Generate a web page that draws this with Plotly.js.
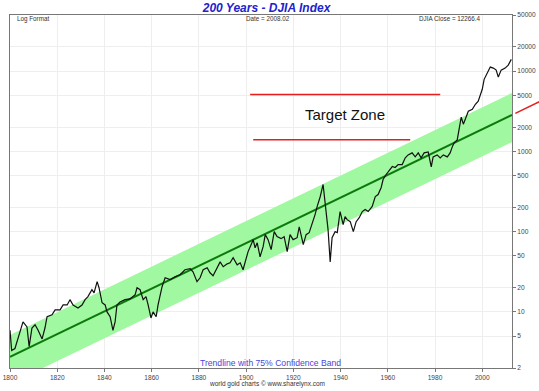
<!DOCTYPE html>
<html><head><meta charset="utf-8">
<script src="https://cdn.plot.ly/plotly-3.0.1.min.js"></script>
<style>html,body{margin:0;padding:0;background:#fff}#chart{width:539px;height:391px}</style>
</head><body><div id="chart"></div>
<script>
// DJIA index values (x positions read through the chart's own axis)
const years = [1800.0,1800.7,1802.1,1803.4,1805.5,1807.2,1808.1,1809.3,1810.6,1811.9,1813.6,1814.8,1815.7,1817.8,1819.1,1821.2,1822.5,1824.2,1825.4,1826.7,1828.8,1830.5,1831.8,1833.0,1834.7,1835.6,1836.9,1837.7,1839.0,1840.3,1841.1,1842.4,1843.6,1844.5,1845.3,1846.6,1848.7,1850.8,1853.0,1853.8,1855.1,1856.4,1857.6,1858.5,1859.7,1860.6,1861.9,1862.7,1864.4,1865.7,1867.8,1869.9,1872.0,1874.1,1876.3,1877.5,1879.2,1880.5,1881.8,1883.5,1884.7,1886.0,1887.7,1889.0,1890.3,1892.0,1893.2,1894.5,1896.2,1897.5,1898.7,1900.0,1900.8,1902.1,1903.0,1903.8,1904.7,1905.9,1907.2,1908.1,1909.3,1910.6,1911.9,1913.1,1914.8,1916.1,1917.4,1918.6,1919.9,1921.6,1922.5,1924.2,1925.4,1926.7,1928.4,1929.2,1930.1,1931.4,1932.6,1933.5,1934.7,1935.6,1936.4,1937.7,1938.6,1939.8,1941.1,1941.9,1942.8,1944.1,1945.4,1946.6,1947.9,1949.2,1950.4,1951.7,1953.4,1954.7,1955.9,1957.2,1958.0,1959.3,1960.2,1961.9,1963.1,1964.4,1966.1,1967.4,1968.6,1970.3,1971.6,1972.9,1974.1,1975.4,1977.1,1978.4,1979.2,1980.9,1982.2,1983.5,1985.2,1986.4,1987.3,1988.1,1989.4,1990.3,1991.1,1992.0,1993.2,1994.1,1995.8,1997.1,1998.3,2000.0,2000.8,2002.1,2003.4,2004.7,2005.9,2006.8,2008.0,2009.7,2011.0,2012.3];
const djia = [5.9,3.3,3.5,4.7,7.5,6.5,3.7,6.3,6.9,5.9,4.6,6.3,8.7,9.2,10.6,10.6,12.2,12.2,14.2,12.2,11.2,12.2,14.2,15.5,18.9,17.3,23.8,20,13.0,12.2,10,8.7,5.9,7.5,12.2,13.3,14.2,14.5,16.4,20,18.9,14.2,15.5,12.2,8.4,10,8.7,12.2,20.6,26.6,25.2,27.4,29,33.5,34.5,31.6,23.8,26.6,33.5,35.5,30.7,28.2,35.5,42,36.5,39.7,40.9,47.2,38.6,40.9,33.5,44.6,56,68.5,79,63,72.6,48.6,65,91.7,79.5,59.7,100,86.6,81.8,86.6,56.3,91.7,79.5,84,115,68.8,91.7,97,133,163,206,274,387,238,106,42,84,100,97,178,122,154,141,133,100,133,149,178,189,178,206,274,290,355,446,515,561,647,629,685,685,830,904,958,854,958,830,958,986,641,854,904,830,904,854,958,1138,1276,1392,2000,2664,2180,2740,3165,3346,3864,4209,5940,7900,9440,11220,10900,10290,8420,10290,10900,11880,14000];

const trendYears = [1800, 2012.6];
const trendValues = [2.75, 2843];
const bandUpperValues = [5.17, 5345];
const bandLowerValues = [1.27, 1310];
const targetUpperYears = [1901.7, 1982.2];
const targetUpperValues = [5100, 5100];
const targetLowerYears = [1903.0, 1969.5];
const targetLowerValues = [1400, 1400];
const trendExtYears = [2014.0, 2024.2];
const xRange = [1800, 2012.6];
const yRange = [2, 50000];
const yTickVals = [2,5,10,20,50,100,200,500,1000,2000,5000,10000,20000,50000];
const yTickText = yTickVals.map(String);

const FONT = 'Arial, "Liberation Sans", sans-serif';
const L = Math.log10;

function trendAt(yr){
  const f = (yr - trendYears[0])/(trendYears[1]-trendYears[0]);
  return L(trendValues[0]) + f*(L(trendValues[1]) - L(trendValues[0]));
}
function px(yr){ return (yr - xRange[0])/(xRange[1]-xRange[0]); }
function py(lv){ return (lv - L(yRange[0]))/(L(yRange[1]) - L(yRange[0])); }

const traces = [
  {x: trendYears, y: bandLowerValues, mode:'lines', line:{width:0, color:'rgba(0,0,0,0)'}, hoverinfo:'skip'},
  {x: trendYears, y: bandUpperValues, mode:'lines', line:{width:0, color:'rgba(0,0,0,0)'}, fill:'tonexty', fillcolor:'rgb(160,248,160)', hoverinfo:'skip'},
  {x: trendYears, y: trendValues, mode:'lines', line:{width:2, color:'#0b7a0b'}},
  {x: years, y: djia, mode:'lines', line:{width:1.2, color:'#111'}},
  {x: targetUpperYears, y: targetUpperValues, mode:'lines', line:{width:1.5, color:'rgb(230,30,30)'}},
  {x: targetLowerYears, y: targetLowerValues, mode:'lines', line:{width:1.5, color:'rgb(230,30,30)'}}
];

const layout = {
  width:539, height:391,
  margin:{l:10, r:27, t:15, b:23},
  paper_bgcolor:'#fff', plot_bgcolor:'#fff',
  showlegend:false,
  font:{family:FONT, color:'#333'},
  title:{text:'<b><i>200 Years - DJIA Index</i></b>', font:{family:FONT, size:12, color:'#2222cc'},
         xref:'paper', x:0.511, xanchor:'center', yref:'container', y:0.98, yanchor:'middle'},
  xaxis:{range:xRange, tick0:1800, dtick:20, ticks:'outside', ticklen:3, tickcolor:'#777',
         showline:true, linecolor:'#777', linewidth:1, mirror:true,
         showgrid:true, gridcolor:'#eeeeee', zeroline:false,
         tickfont:{size:6.6, color:'#444'}, automargin:false},
  yaxis:{type:'log', range:[L(yRange[0]), L(yRange[1])], side:'right',
         tickvals:yTickVals, ticktext:yTickText, ticks:'outside', ticklen:3, tickcolor:'#777',
         showline:true, linecolor:'#777', linewidth:1, mirror:true,
         showgrid:true, gridcolor:'#eeeeee', zeroline:false,
         tickfont:{size:6.6, color:'#444'}, automargin:false},
  shapes:[{type:'line', xref:'paper', yref:'paper',
           x0:px(trendExtYears[0]), y0:py(trendAt(trendExtYears[0])),
           x1:px(trendExtYears[1]), y1:py(trendAt(trendExtYears[1])),
           line:{color:'rgb(230,30,30)', width:1.5}}],
  annotations:[
    {text:'Log Format', xref:'paper', yref:'paper', x:0.01, y:0.989, xanchor:'left', yanchor:'middle', showarrow:false, font:{size:6.3, color:'#333'}},
    {text:'Date = 2008.02', xref:'paper', yref:'paper', x:0.513, y:0.989, xanchor:'center', yanchor:'middle', showarrow:false, font:{size:6.3, color:'#333'}},
    {text:'DJIA Close = 12266.4', xref:'paper', yref:'paper', x:0.943, y:0.989, xanchor:'right', yanchor:'middle', showarrow:false, font:{size:6.3, color:'#333'}},
    {text:'Target Zone', xref:'paper', yref:'paper', x:0.668, y:0.717, xanchor:'center', yanchor:'middle', showarrow:false, font:{size:15, color:'#111'}},
    {text:'Trendline with 75% Confidence Band', xref:'paper', yref:'paper', x:0.518, y:0.014, xanchor:'center', yanchor:'middle', showarrow:false, font:{size:8.6, color:'#4646d8'}},
    {text:'world gold charts \u00a9 www.sharelynx.com', xref:'paper', yref:'paper', x:0.512, y:-0.045, xanchor:'center', yanchor:'middle', showarrow:false, font:{size:6.5, color:'#333'}}
  ]
};

Plotly.newPlot('chart', traces, layout, {staticPlot:true, displayModeBar:false});
</script>
</body></html>
